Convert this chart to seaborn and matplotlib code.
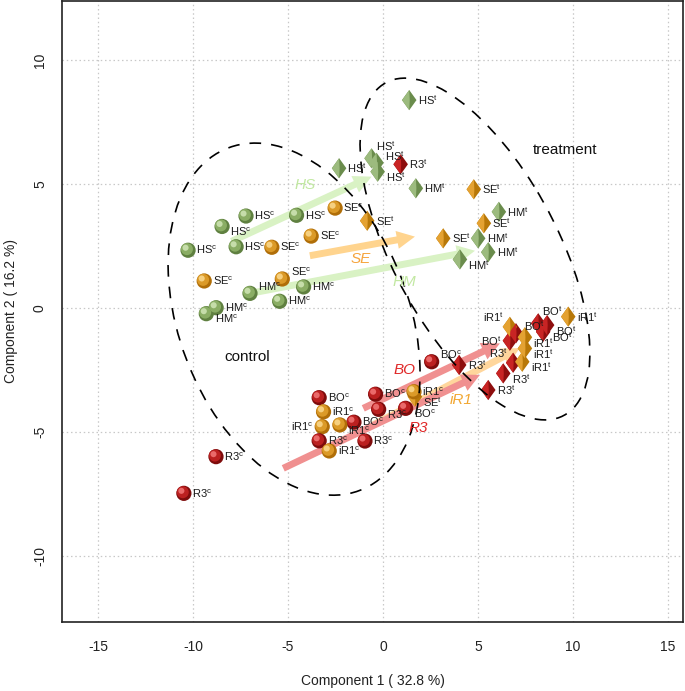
import numpy as np
import pandas as pd
import matplotlib
matplotlib.use("Agg")
import matplotlib.pyplot as plt
import matplotlib.transforms as mtransforms
from matplotlib.patches import Ellipse
from matplotlib.path import Path
from matplotlib.markers import MarkerStyle
import seaborn as sns

# ---------------- data ----------------
groups = ["HS", "SE", "HM", "BO", "iR1", "R3"]

HS_c_x = [-10.26, -8.47, -7.21, -7.73, -4.55]
HS_c_y = [2.34, 3.30, 3.72, 2.48, 3.75]
SE_c_x = [-2.52, -3.78, -5.85, -9.41, -5.30]
SE_c_y = [4.04, 2.91, 2.46, 1.10, 1.18]
HM_c_x = [-7.00, -4.18, -5.44, -8.78, -9.30]
HM_c_y = [0.60, 0.86, 0.28, 0.02, -0.22]
BO_c_x = [-3.36, -0.39, -1.53, 1.19, 2.56]
BO_c_y = [-3.61, -3.47, -4.60, -4.04, -2.16]
iR1_c_x = [-3.13, -3.20, -2.27, -2.83, 1.63]
iR1_c_y = [-4.18, -4.78, -4.71, -5.76, -3.37]
R3_c_x = [-0.23, -3.36, -0.95, -8.79, -10.48]
R3_c_y = [-4.08, -5.35, -5.36, -5.99, -7.47]

HS_t_x = [1.38, -2.31, -0.60, -0.34, -0.28]
HS_t_y = [8.40, 5.65, 6.05, 5.87, 5.51]
SE_t_x = [4.78, -0.83, 5.31, 3.17, 1.68]
SE_t_y = [4.80, 3.53, 3.43, 2.82, -3.57]
HM_t_x = [1.73, 6.10, 5.01, 5.54, 4.05]
HM_t_y = [4.84, 3.89, 2.82, 2.26, 1.97]
BO_t_x = [6.68, 7.00, 8.17, 8.64, 8.43]
BO_t_y = [-1.31, -1.01, -0.61, -0.68, -0.95]
iR1_t_x = [6.68, 7.47, 7.47, 7.33, 9.75]
iR1_t_y = [-0.75, -1.17, -1.62, -2.16, -0.34]
R3_t_x = [4.01, 5.54, 6.33, 6.85, 0.93]
R3_t_y = [-2.29, -3.30, -2.63, -2.20, 5.81]

# arrows (control -> treatment shift), start and end
arrow_group = ["HS", "SE", "HM", "BO", "iR1", "R3"]
arrow_x0 = [-7.97, -3.85, -7.00, -1.04, -0.50, -5.25]
arrow_y0 = [2.70, 2.12, 0.60, -4.04, -4.70, -6.46]
arrow_x1 = [-0.60, 1.68, 4.84, 6.15, 7.20, 5.10]
arrow_y1 = [5.31, 2.89, 2.32, -1.42, -1.61, -2.69]
arrow_lab_x = [-4.10, -1.20, 1.15, 1.15, 4.14, 1.85]
arrow_lab_y = [4.97, 1.97, 1.07, -2.49, -3.70, -4.85]

# ellipses: centre, full axes, angle (data units)
ell_name = ["control", "treatment"]
ell_cx = [-4.68, 4.84]
ell_cy = [-0.44, 2.39]
ell_w = [15.77, 16.50]
ell_h = [11.36, 8.02]
ell_ang = [128.7, 128.9]
ell_text_x = [-7.16, 9.58]
ell_text_y = [-1.98, 6.37]

# label placement codes (styling)
lab_pos = {
    ("HS", "c"): ["r", "rd", "r", "r", "r"],
    ("SE", "c"): ["r", "r", "r", "r", "ru"],
    ("HM", "c"): ["ru", "r", "r", "r", "rd"],
    ("BO", "c"): ["r", "r", "r", "rd", "ru"],
    ("iR1", "c"): ["r", "l", "rd", "r", "r"],
    ("R3", "c"): ["rd", "r", "r", "r", "r"],
    ("HS", "t"): ["r", "r", "u", "ru", "rd"],
    ("SE", "t"): ["r", "r", "r", "r", "rd"],
    ("HM", "t"): ["r", "r", "r", "r", "rd"],
    ("BO", "t"): ["l", "ru", "u", "rd", "rd"],
    ("iR1", "t"): ["lu", "rd", "rd", "rd", "r"],
    ("R3", "t"): ["r", "r", "rd", "lu", "r"],
}

# ---------------- build table ----------------
rows = []
src = {
    ("HS", "c"): (HS_c_x, HS_c_y), ("SE", "c"): (SE_c_x, SE_c_y),
    ("HM", "c"): (HM_c_x, HM_c_y), ("BO", "c"): (BO_c_x, BO_c_y),
    ("iR1", "c"): (iR1_c_x, iR1_c_y), ("R3", "c"): (R3_c_x, R3_c_y),
    ("HS", "t"): (HS_t_x, HS_t_y), ("SE", "t"): (SE_t_x, SE_t_y),
    ("HM", "t"): (HM_t_x, HM_t_y), ("BO", "t"): (BO_t_x, BO_t_y),
    ("iR1", "t"): (iR1_t_x, iR1_t_y), ("R3", "t"): (R3_t_x, R3_t_y),
}
for (g, c), (xs, ys) in src.items():
    for i, (xv, yv) in enumerate(zip(xs, ys)):
        rows.append(dict(x=xv, y=yv, group=g, cond=c, pos=lab_pos[(g, c)][i]))
df = pd.DataFrame(rows)

# ---------------- style ----------------
sns.set_style("white")
plt.rcParams["font.family"] = ["Liberation Sans", "DejaVu Sans"]
plt.rcParams["mathtext.fontset"] = "custom"
plt.rcParams["mathtext.rm"] = "Liberation Sans"
plt.rcParams["mathtext.it"] = "Liberation Sans:italic"
plt.rcParams["axes.unicode_minus"] = False

fig = plt.figure(figsize=(6.85, 6.91), dpi=100)
ax = fig.add_axes([0.0909, 0.1003, 0.9057, 0.8983])
ax.set_xlim(-16.88, 15.77)
ax.set_ylim(-12.65, 12.40)

ax.set_xticks([-15, -10, -5, 0, 5, 10, 15])
ax.set_yticks([-10, -5, 0, 5, 10])
ax.grid(True, color="#c8c8c8", linestyle=(0, (1.2, 2.2)), linewidth=0.9)
ax.set_axisbelow(True)
for sp in ax.spines.values():
    sp.set_color("#222222")
    sp.set_linewidth(1.2)
ax.tick_params(axis="both", direction="out", length=5, width=1.0,
               color="#222222", labelsize=10, labelcolor="#222222")
ax.tick_params(axis="x", pad=8)
ax.tick_params(axis="y", pad=6)
for lab in ax.get_yticklabels():
    lab.set_rotation(90)
    lab.set_va("center")

# ---------------- arrows ----------------
arrow_col = {"HS": "#d9f2c4", "SE": "#ffd48e", "HM": "#d9f2c4",
             "BO": "#f09090", "iR1": "#ffd69c", "R3": "#f09090"}
arrow_txt = {"HS": "#c2e8a2", "SE": "#f6a43c", "HM": "#c2e8a2",
             "BO": "#e02828", "iR1": "#f2a732", "R3": "#e02828"}
for g, x0, y0, x1, y1, lx, ly in zip(arrow_group, arrow_x0, arrow_y0, arrow_x1,
                                    arrow_y1, arrow_lab_x, arrow_lab_y):
    ax.annotate("", xy=(x1, y1), xytext=(x0, y0),
                arrowprops=dict(arrowstyle="simple,head_width=1.3,head_length=1.3,tail_width=0.5",
                                color=arrow_col[g], lw=0, mutation_scale=10,
                                shrinkA=0, shrinkB=0),
                zorder=2)
    ax.text(lx, ly, g, color=arrow_txt[g], fontsize=11, style="italic",
            ha="center", va="center", zorder=6)

# ---------------- points (shaded) ----------------
base_c = {"HS": "#5f8040", "SE": "#b06e08", "HM": "#5f8040",
          "BO": "#7e0c0c", "iR1": "#b06e08", "R3": "#7e0c0c"}
mid_c = {"HS": "#8aad64", "SE": "#db9a28", "HM": "#8aad64",
         "BO": "#bb2020", "iR1": "#db9a28", "R3": "#bb2020"}
hi_c = {"HS": "#c6ddaa", "SE": "#f6d080", "HM": "#c6ddaa",
        "BO": "#ea6a6a", "iR1": "#f6d080", "R3": "#ea6a6a"}

# diamond facets
d_dark = {"HS": "#6a8c4c", "SE": "#b87808", "HM": "#6a8c4c",
          "BO": "#8e0e0e", "iR1": "#b87808", "R3": "#8e0e0e"}
d_light = {"HS": "#9cbb7e", "SE": "#e4a232", "HM": "#9cbb7e",
           "BO": "#c82424", "iR1": "#e4a232", "R3": "#c82424"}

CL = Path.CLOSEPOLY
diamond = MarkerStyle(Path([(0, 1), (0.72, 0), (0, -1), (-0.72, 0), (0, 1)],
                           [Path.MOVETO, Path.LINETO, Path.LINETO, Path.LINETO, CL]))
diamond_left = MarkerStyle(Path([(0, 1), (0.05, 0), (0, -1), (-0.72, 0), (0, 1)],
                                [Path.MOVETO, Path.LINETO, Path.LINETO, Path.LINETO, CL]))


def shift(dx, dy):
    return ax.transData + mtransforms.ScaledTranslation(dx / 72, dy / 72, fig.dpi_scale_trans)


def draw_layer(sub, pal, marker, s, dx, dy):
    n0 = len(ax.collections)
    sns.scatterplot(data=sub, x="x", y="y", hue="group", palette=pal,
                    marker=marker, s=s, linewidth=0, legend=False, ax=ax, zorder=3)
    for coll in ax.collections[n0:]:
        coll.set_offset_transform(shift(dx, dy))
        coll.set_zorder(3)


sub_t = df[df.cond == "t"]
draw_layer(sub_t, d_dark, diamond, 210, 0, 0)
draw_layer(sub_t, d_light, diamond_left, 210, 0, 0)

sub_c = df[df.cond == "c"]
for pal, fac, dx, dy in [(base_c, 1.0, 0.0, 0.0), (mid_c, 0.62, -0.8, 0.8),
                         (hi_c, 0.16, -1.8, 1.8)]:
    draw_layer(sub_c, pal, "o", 120 * fac, dx, dy)

ax.set_xlabel("Component 1 ( 32.8 %)", fontsize=10, color="#222222")
ax.set_ylabel("Component 2 ( 16.2 %)", fontsize=10, color="#222222")
ax.xaxis.set_label_coords(0.5, -0.085)
ax.yaxis.set_label_coords(-0.072, 0.5)

# ---------------- ellipses ----------------
for cx, cy, w, h, a in zip(ell_cx, ell_cy, ell_w, ell_h, ell_ang):
    ax.add_patch(Ellipse((cx, cy), w, h, angle=a, fill=False, edgecolor="black",
                         linewidth=1.2, linestyle=(0, (7, 6)), zorder=4))
for name, tx, ty in zip(ell_name, ell_text_x, ell_text_y):
    ax.text(tx, ty, name, fontsize=11, color="#111111", ha="center", va="center", zorder=6)

# ---------------- point labels ----------------
offs = {"r": (6, 0, "left"), "rd": (6, -4, "left"), "ru": (6, 5, "left"),
        "l": (-6, 0, "right"), "lu": (-4, 7, "right"), "u": (3, 9, "left")}
for _, r in df.iterrows():
    dx, dy, ha = offs[r.pos]
    sup = "c" if r.cond == "c" else "t"
    ax.annotate(r.group + r"$^{\mathrm{" + sup + "}}$", (r.x, r.y),
                xytext=(dx, dy), textcoords="offset points", fontsize=8,
                ha=ha, va="center", color="#1a1a1a", zorder=7)

fig.savefig("out.png", dpi=100)
